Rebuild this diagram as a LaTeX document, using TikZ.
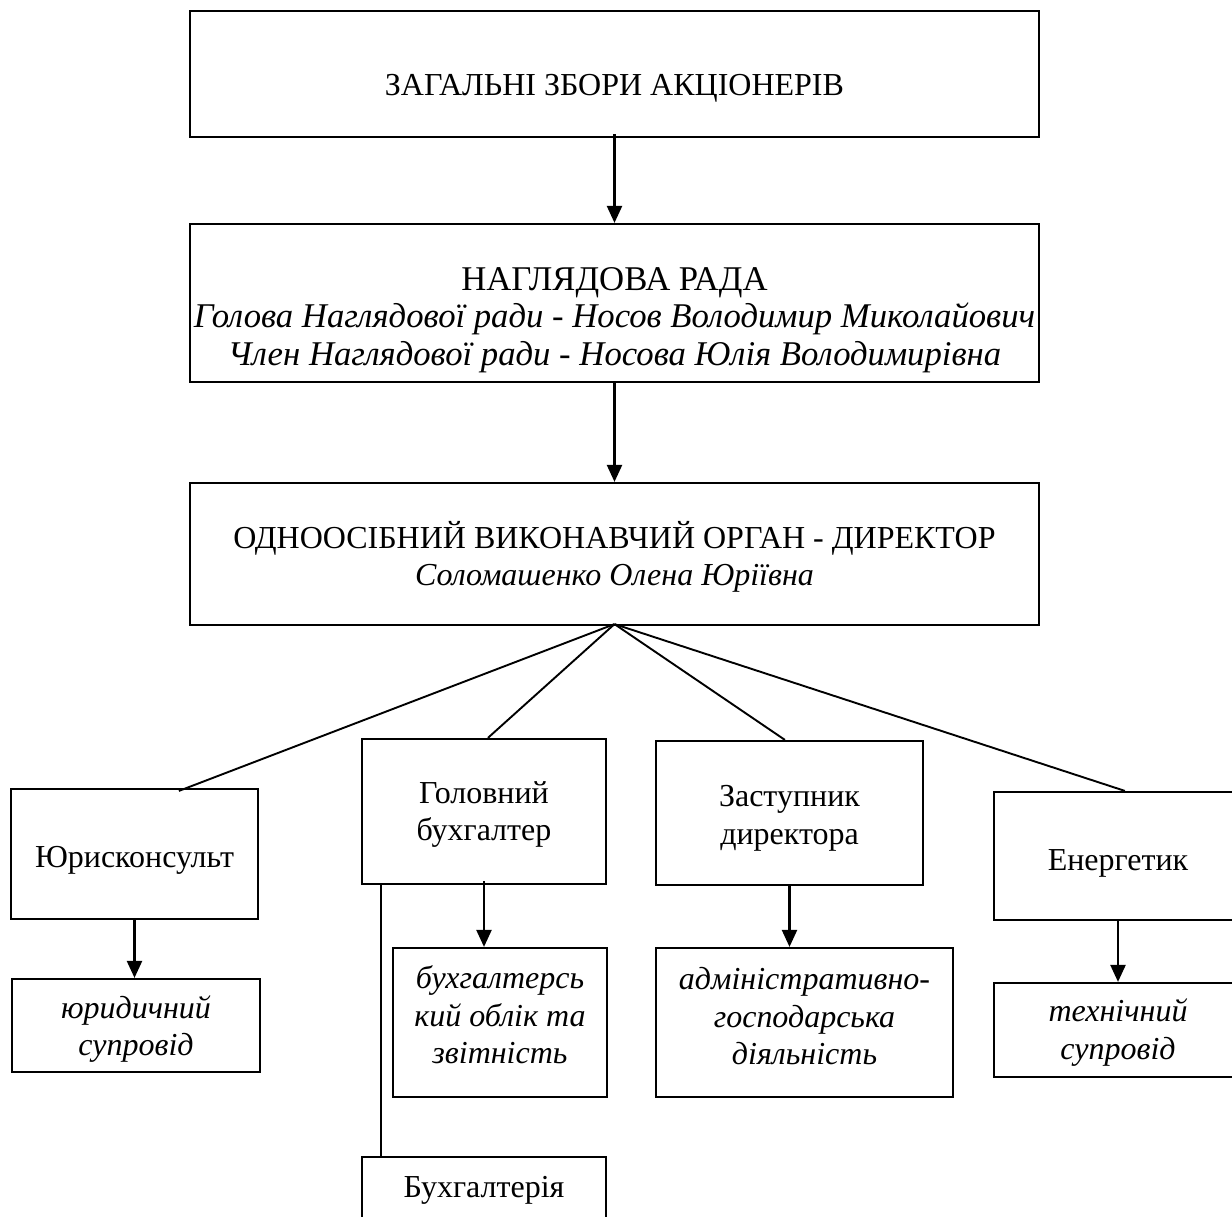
\documentclass[tikz,border=0pt]{standalone}
\usepackage{fontspec}
\setmainfont{Liberation Serif}
\usetikzlibrary{arrows.meta}
\newcommand\orgfs{\fontsize{32}{37.5}\selectfont}
\newcommand\orgfsb{\fontsize{34.7}{37.5}\selectfont}
\newcommand\tb[2]{\raisebox{-#1pt}[\height][\depth]{\begin{tabular}{@{}c@{}}#2\end{tabular}}}
\begin{document}
\begin{tikzpicture}[x=1pt,y=-1pt,
  orgbox/.style={draw, line width=2.2pt, inner sep=0pt, align=center, font=\orgfs},
  arr/.style={line width=2.3pt, -{Triangle[length=17pt,width=15pt]}},
  ln/.style={line width=1.9pt}]
\useasboundingbox (0,0) rectangle (1232,1216);
\clip (0,0) rectangle (1232,1216);
\fill[white] (0,0) rectangle (1232,1216);
% top boxes
\node[orgbox, minimum width=849pt, minimum height=126pt] (zbory) at (614.5,74) {\tb{13.5}{ЗАГАЛЬНІ ЗБОРИ АКЦІОНЕРІВ}};
\node[orgbox, font=\orgfsb, minimum width=849pt, minimum height=158pt] (nahl) at (614.5,303) {\tb{17}{НАГЛЯДОВА РАДА\\ \textit{Голова Наглядової ради - Носов Володимир Миколайович}\\ \textit{Член Наглядової ради - Носова Юлія Володимирівна}}};
\node[orgbox, minimum width=849pt, minimum height=142pt] (dir) at (614.5,554) {\tb{5}{ОДНООСІБНИЙ ВИКОНАВЧИЙ ОРГАН - ДИРЕКТОР\\ \textit{Соломашенко Олена Юріївна}}};
% second level
\node[orgbox, minimum width=247pt, minimum height=130pt] (yur) at (134.5,854) {\tb{5.5}{Юрисконсульт}};
\node[orgbox, minimum width=244pt, minimum height=145pt] (holov) at (484,811.5) {\tb{3}{Головний\\ бухгалтер}};
\node[orgbox, minimum width=267pt, minimum height=144pt] (zast) at (789.5,813) {\tb{5}{Заступник\\ директора}};
\node[orgbox, minimum width=248pt, minimum height=128pt] (energ) at (1118,856) {\tb{6.5}{Енергетик}};
% third level
\node[orgbox, minimum width=248pt, minimum height=93pt] (yurd) at (136,1025.5) {\tb{4}{\textit{юридичний}\\ \textit{супровід}}};
\node[orgbox, minimum width=214pt, minimum height=149pt] (bukhobl) at (500,1022.5) {\tb{-4}{\textit{бухгалтерсь}\\ \textit{кий облік та}\\ \textit{звітність}}};
\node[orgbox, minimum width=297pt, minimum height=149pt] (admin) at (804.5,1022.5) {\tb{-3}{\textit{адміністративно-}\\ \textit{господарська}\\ \textit{діяльність}}};
\node[orgbox, minimum width=248pt, minimum height=94pt] (tekhn) at (1118,1030) {\tb{3}{\textit{технічний}\\ \textit{супровід}}};
\node[orgbox, minimum width=244pt, minimum height=80pt] (bukh) at (484,1197) {\tb{-7.5}{Бухгалтерія}};
% connectors
\draw[arr] ([yshift=4pt]zbory.south) -- (nahl.north);
\draw[arr] (nahl.south) -- (dir.north);
\coordinate (apex) at ([yshift=2pt]dir.south);
\draw[ln] (apex) -- ([xshift=169pt,yshift=-3pt]yur.north west);
\draw[ln] (apex) -- ([xshift=127pt]holov.north west);
\draw[ln] (apex) -- ([xshift=130pt]zast.north west);
\draw[ln] (apex) -- ([xshift=132pt]energ.north west);
\draw[arr] (yur.south) -- (yur.south |- yurd.north);
\draw[arr] ([yshift=4pt]holov.south) -- (holov.south |- bukhobl.north);
\draw[arr] (zast.south) -- (zast.south |- admin.north);
\draw[arr] (energ.south) -- (tekhn.north);
\draw[ln] ([xshift=20pt]holov.south west) -- ([xshift=20pt]bukh.north west);
\end{tikzpicture}
\end{document}
